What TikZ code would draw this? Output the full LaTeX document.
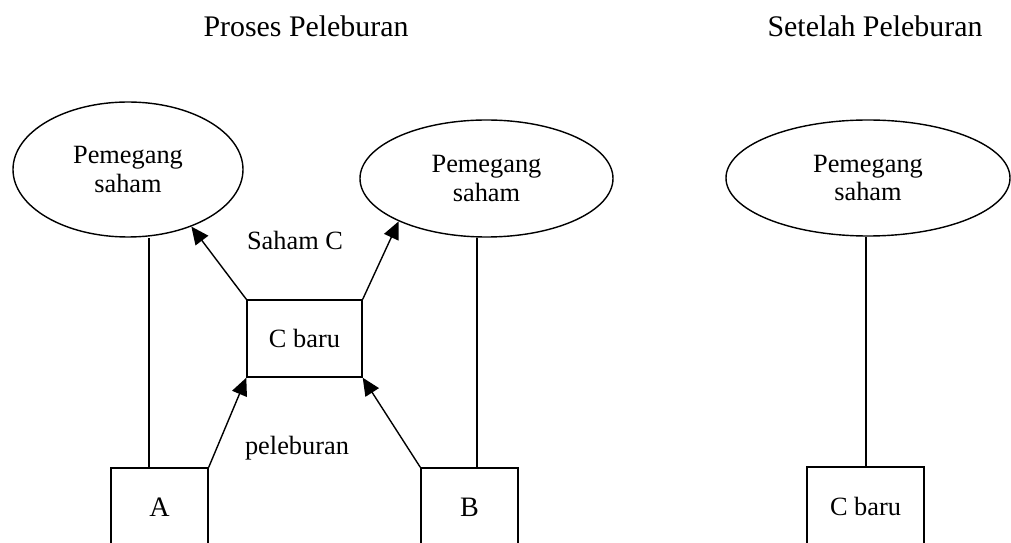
\documentclass[tikz,border=0pt]{standalone}
\usepackage{fontspec}
\setmainfont{Liberation Serif}
\usepackage{tikz}
\usetikzlibrary{shapes.geometric,arrows.meta}

\begin{document}
\begin{tikzpicture}[
    holder/.style={ellipse, draw, line width=0.8pt, inner sep=0pt, align=center, font=\fontsize{15}{16}\selectfont},
    firm/.style={rectangle, draw, line width=0.8pt, minimum width=1.94cm, minimum height=1.56cm, font=\fontsize{16}{18}\selectfont},
    lbl/.style={font=\fontsize{15}{16}\selectfont},
    ttl/.style={font=\fontsize{17}{20}\selectfont},
    flow/.style={line width=0.8pt, -{Triangle[length=10pt, width=9pt]}}
  ]
%		\draw[help lines] (0,0) grid (20,-11);
\useasboundingbox (0,0) rectangle (20.22,-10.86);
\node[ttl] (t1) at (6.12,-0.52) {Proses Peleburan};
\node[ttl] (t2) at (17.5,-0.52) {Setelah Peleburan};
\node[holder, minimum width=4.6cm, minimum height=2.7cm] (h1) at (2.56,-3.39) {Pemegang\\saham};
\node[holder, minimum width=5.06cm, minimum height=2.34cm] (h2) at (9.73,-3.57) {Pemegang\\saham};
\node[holder, minimum width=5.68cm, minimum height=2.32cm] (h3) at (17.36,-3.56) {Pemegang\\saham};
\node[firm, minimum width=2.3cm, minimum height=1.54cm, font=\fontsize{15}{16}\selectfont] (c) at (6.09,-6.77) {C baru};
\node[firm] (a) at (3.19,-10.14) {A};
\node[firm] (b) at (9.39,-10.14) {B};
\node[firm, minimum width=2.34cm, font=\fontsize{15}{16}\selectfont] (c2) at (17.31,-10.12) {C baru};
\node[lbl] (s) at (5.9,-4.8) {Saham C};
\node[lbl] (p) at (5.94,-8.96) {peleburan};
\coordinate (aTop) at ([xshift=-0.21cm]a.north);
\coordinate (bTop) at ([xshift=0.15cm]b.north);
\coordinate (cTop) at ([xshift=0.01cm]c2.north);
\draw[line width=0.8pt] (aTop) -- (aTop |- h1.south);
\draw[line width=0.8pt] (bTop) -- (bTop |- h2.south);
\draw[line width=0.8pt] (cTop) -- (cTop |- h3.south);
\draw[flow] (a.north east) -- (c.south west);
\draw[flow] (b.north west) -- (c.south east);
\draw[flow] (c.north west) -- (h1.-42);
\draw[flow] (c.north east) -- (h2.-154);
\end{tikzpicture}
\end{document}
